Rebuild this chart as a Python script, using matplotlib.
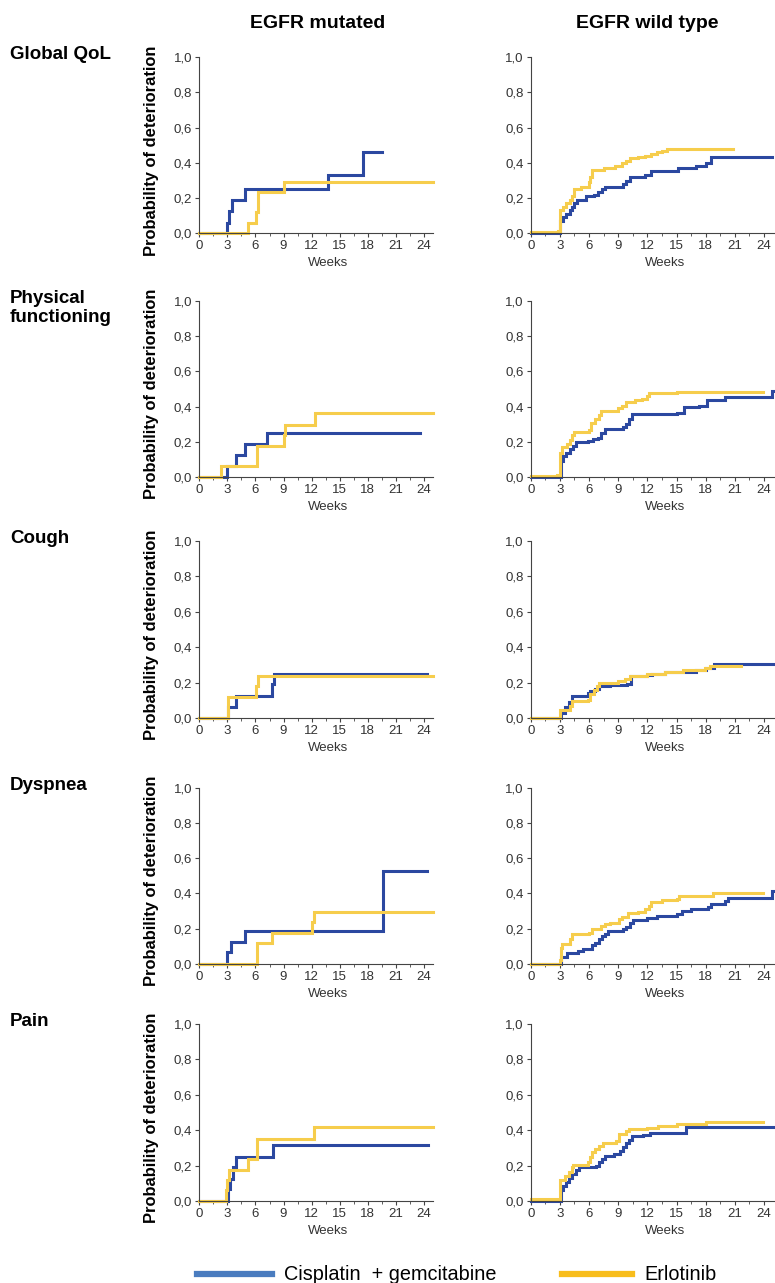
import matplotlib.pyplot as plt
from matplotlib.lines import Line2D
from matplotlib.ticker import MultipleLocator, FuncFormatter

plt.rcParams['font.family'] = ['Liberation Sans', 'DejaVu Sans']

BLUE = '#2b48a0'
YELLOW = '#f6cd4c'

# cumulative probability of deterioration, (week, probability) step points
# last point marks the end of follow-up

qol_mut_cg = [(0, 0), (3.0, 0.06), (3.15, 0.125), (3.5, 0.19), (4.9, 0.25),
              (13.7, 0.33), (17.5, 0.46), (19.5, 0.46)]
qol_mut_erl = [(0, 0), (5.2, 0.06), (6.1, 0.12), (6.3, 0.235), (9.05, 0.29),
               (25.0, 0.29)]

qol_wt_cg = [(0, 0), (3.0, 0.07), (3.3, 0.09), (3.6, 0.11), (4.0, 0.13),
             (4.3, 0.15), (4.5, 0.17), (4.8, 0.19), (5.7, 0.21), (6.5, 0.22),
             (6.9, 0.235), (7.3, 0.25), (7.6, 0.265), (9.5, 0.28),
             (9.8, 0.295), (10.2, 0.318), (11.8, 0.33), (12.4, 0.355),
             (15.2, 0.37), (17.0, 0.385), (18.0, 0.40), (18.5, 0.432),
             (24.8, 0.432)]
qol_wt_erl = [(0, 0.01), (2.8, 0.015), (3.0, 0.13), (3.3, 0.15), (3.6, 0.17),
              (4.0, 0.19), (4.3, 0.21), (4.5, 0.252), (5.2, 0.265),
              (6.0, 0.29), (6.1, 0.32), (6.3, 0.36), (7.5, 0.37), (8.7, 0.385),
              (9.4, 0.40), (9.8, 0.41), (10.2, 0.425), (11.0, 0.435),
              (11.8, 0.44), (12.4, 0.45), (13.0, 0.46), (13.5, 0.47),
              (14.0, 0.481), (20.8, 0.481)]

phys_mut_cg = [(0, 0), (3.0, 0.065), (3.9, 0.125), (4.9, 0.19), (7.2, 0.25),
               (23.6, 0.25)]
phys_mut_erl = [(0, 0), (2.3, 0.064), (6.2, 0.18), (9.1, 0.24), (9.2, 0.298),
                (12.4, 0.362), (25.0, 0.362)]

phys_wt_cg = [(0, 0), (3.1, 0.09), (3.3, 0.12), (3.6, 0.14), (4.0, 0.16),
              (4.4, 0.18), (4.7, 0.198), (5.9, 0.205), (6.4, 0.215),
              (6.9, 0.225), (7.2, 0.25), (7.6, 0.272), (9.5, 0.285),
              (9.8, 0.30), (10.1, 0.33), (10.4, 0.358), (15.0, 0.365),
              (15.8, 0.398), (17.3, 0.405), (18.1, 0.435), (20.0, 0.457),
              (24.85, 0.49), (24.9, 0.49)]
phys_wt_erl = [(0, 0.01), (2.7, 0.015), (3.0, 0.14), (3.2, 0.174), (3.7, 0.19),
               (4.0, 0.21), (4.3, 0.24), (4.5, 0.257), (6.0, 0.27),
               (6.2, 0.31), (6.6, 0.33), (7.0, 0.35), (7.2, 0.374),
               (9.0, 0.39), (9.4, 0.405), (9.8, 0.426), (10.7, 0.435),
               (11.5, 0.445), (12.0, 0.46), (12.2, 0.475), (15.0, 0.485),
               (23.9, 0.485)]

cough_mut_cg = [(0, 0), (3.1, 0.062), (3.9, 0.126), (7.8, 0.19), (8.0, 0.25),
                (24.3, 0.25)]
cough_mut_erl = [(0, 0), (3.1, 0.119), (6.1, 0.18), (6.3, 0.235),
                 (25.0, 0.235)]

cough_wt_cg = [(0, 0), (3.1, 0.03), (3.5, 0.06), (3.9, 0.09), (4.2, 0.126),
               (5.9, 0.14), (6.1, 0.155), (6.6, 0.165), (7.0, 0.179),
               (8.2, 0.185), (9.9, 0.19), (10.3, 0.235), (12.0, 0.245),
               (12.5, 0.25), (13.8, 0.26), (17.0, 0.27), (18.0, 0.28),
               (18.9, 0.307), (24.9, 0.307)]
cough_wt_erl = [(0, 0), (3.05, 0.047), (4.0, 0.065), (4.2, 0.094),
                (5.9, 0.10), (6.1, 0.135), (6.5, 0.16), (6.8, 0.18),
                (7.0, 0.20), (9.0, 0.21), (9.7, 0.22), (10.2, 0.235),
                (11.4, 0.24), (12.0, 0.25), (13.8, 0.26), (15.7, 0.27),
                (17.9, 0.28), (18.4, 0.295), (21.6, 0.295)]

dysp_mut_cg = [(0, 0), (3.0, 0.065), (3.4, 0.123), (4.9, 0.186),
               (19.6, 0.526), (24.3, 0.526)]
dysp_mut_erl = [(0, 0), (6.2, 0.118), (7.8, 0.176), (12.0, 0.235),
                (12.3, 0.294), (25.0, 0.294)]

dysp_wt_cg = [(0, 0), (3.1, 0.04), (3.7, 0.061), (4.9, 0.07), (5.4, 0.085),
              (6.3, 0.105), (6.6, 0.12), (7.0, 0.14), (7.3, 0.155),
              (7.6, 0.17), (8.0, 0.184), (9.5, 0.195), (9.8, 0.21),
              (10.2, 0.23), (10.5, 0.25), (12.0, 0.26), (13.0, 0.27),
              (15.0, 0.285), (15.6, 0.30), (16.5, 0.311), (18.2, 0.325),
              (18.6, 0.34), (20.0, 0.355), (20.3, 0.376), (24.85, 0.412),
              (24.9, 0.412)]
dysp_wt_erl = [(0, 0), (3.0, 0.02), (3.1, 0.09), (3.2, 0.114), (4.0, 0.14),
               (4.2, 0.167), (6.0, 0.175), (6.3, 0.195), (7.2, 0.215),
               (7.6, 0.225), (8.2, 0.233), (9.1, 0.255), (9.4, 0.265),
               (10.0, 0.287), (11.0, 0.295), (11.8, 0.31), (12.2, 0.33),
               (12.4, 0.353), (13.5, 0.36), (15.0, 0.37), (15.3, 0.385),
               (18.8, 0.404), (23.9, 0.404)]

pain_mut_cg = [(0, 0), (3.1, 0.07), (3.3, 0.124), (3.6, 0.19), (3.9, 0.25),
               (7.9, 0.318), (24.4, 0.318)]
pain_mut_erl = [(0, 0), (2.9, 0.06), (3.0, 0.12), (3.2, 0.175), (5.2, 0.235),
                (6.2, 0.352), (12.3, 0.418), (25.0, 0.418)]

pain_wt_cg = [(0, 0), (3.1, 0.06), (3.3, 0.085), (3.6, 0.11), (3.9, 0.13),
              (4.3, 0.155), (4.7, 0.175), (5.0, 0.19), (6.7, 0.20),
              (7.0, 0.22), (7.3, 0.24), (7.6, 0.256), (8.6, 0.265),
              (9.2, 0.28), (9.5, 0.305), (9.8, 0.325), (10.1, 0.345),
              (10.4, 0.367), (11.6, 0.375), (12.3, 0.384), (16.0, 0.416),
              (24.9, 0.416)]
pain_wt_erl = [(0, 0.01), (3.0, 0.12), (3.5, 0.14), (3.9, 0.165), (4.2, 0.19),
               (4.4, 0.205), (5.9, 0.22), (6.1, 0.25), (6.3, 0.275),
               (6.6, 0.295), (7.0, 0.31), (7.4, 0.326), (8.8, 0.34),
               (9.1, 0.378), (9.8, 0.395), (10.1, 0.409), (12.0, 0.415),
               (13.1, 0.425), (15.0, 0.435), (18.0, 0.446), (23.9, 0.446)]

row_labels = ['Global QoL', 'Physical\nfunctioning', 'Cough', 'Dyspnea', 'Pain']
col_labels = ['EGFR mutated', 'EGFR wild type']
series = [
    [(qol_mut_cg, qol_mut_erl), (qol_wt_cg, qol_wt_erl)],
    [(phys_mut_cg, phys_mut_erl), (phys_wt_cg, phys_wt_erl)],
    [(cough_mut_cg, cough_mut_erl), (cough_wt_cg, cough_wt_erl)],
    [(dysp_mut_cg, dysp_mut_erl), (dysp_wt_cg, dysp_wt_erl)],
    [(pain_mut_cg, pain_mut_erl), (pain_wt_cg, pain_wt_erl)],
]

W, H = 775, 1283
fig = plt.figure(figsize=(W / 100, H / 100), dpi=100)

# panel geometry in pixels
row_top = [57.3, 300.7, 541, 788, 1024]
row_bot = [233.3, 477.3, 718, 963.7, 1201]
col_left = [199.3, 530.7]
col_width = [234, 243]

comma = FuncFormatter(lambda v, pos: f'{v:.1f}'.replace('.', ','))

for r in range(5):
    for c in range(2):
        ax = fig.add_axes([col_left[c] / W, 1 - row_bot[r] / H,
                           col_width[c] / W, (row_bot[r] - row_top[r]) / H])
        cg, erl = series[r][c]
        for pts, col in ((cg, BLUE), (erl, YELLOW)):
            t = [p[0] for p in pts]
            y = [p[1] for p in pts]
            ax.step(t, y, where='post', color=col, lw=2.2,
                    solid_joinstyle='miter', clip_on=False)
        ax.set_xlim(0, 25)
        ax.set_ylim(0, 1)
        ax.spines[['top', 'right']].set_visible(False)
        for s in ('left', 'bottom'):
            ax.spines[s].set_color('#444444')
            ax.spines[s].set_linewidth(0.8)
        ax.xaxis.set_major_locator(MultipleLocator(3))
        ax.xaxis.set_minor_locator(MultipleLocator(1.5))
        ax.yaxis.set_major_locator(MultipleLocator(0.2))
        ax.yaxis.set_major_formatter(comma)
        ax.tick_params(which='major', length=3, width=0.8, color='#444444',
                       labelsize=9.5, labelcolor='#333333', pad=2)
        ax.tick_params(which='minor', length=2, width=0.6, color='#444444')
        ax.text(13.8, -0.17, 'Weeks', ha='center', va='center',
                fontsize=9.5, color='#333333')
        if c == 0:
            ax.text(-0.205, 0.47, 'Probability of deterioration',
                    transform=ax.transAxes, rotation=90, ha='center',
                    va='center', fontsize=11.9, fontweight='bold')

    fig.text(10 / W, 1 - (row_top[r] - 11) / H, row_labels[r], ha='left',
             va='top', fontsize=13.5, fontweight='bold', linespacing=1.2)

fig.text(318 / W, 1 - 23 / H, col_labels[0], ha='center', va='center',
         fontsize=14, fontweight='bold')
fig.text(647 / W, 1 - 23 / H, col_labels[1], ha='center', va='center',
         fontsize=14, fontweight='bold')

# legend along the bottom edge
ly = 1 - 1274 / H
fig.add_artist(Line2D([197 / W, 272 / W], [ly, ly], color='#4a7cbf', lw=4.5))
fig.text(284 / W, ly, 'Cisplatin  + gemcitabine', ha='left', va='center',
         fontsize=14.3)
fig.add_artist(Line2D([562 / W, 632 / W], [ly, ly], color='#f8bd1c', lw=4.5))
fig.text(644 / W, ly, 'Erlotinib', ha='left', va='center', fontsize=14.3)

fig.savefig('out.png', dpi=100)
